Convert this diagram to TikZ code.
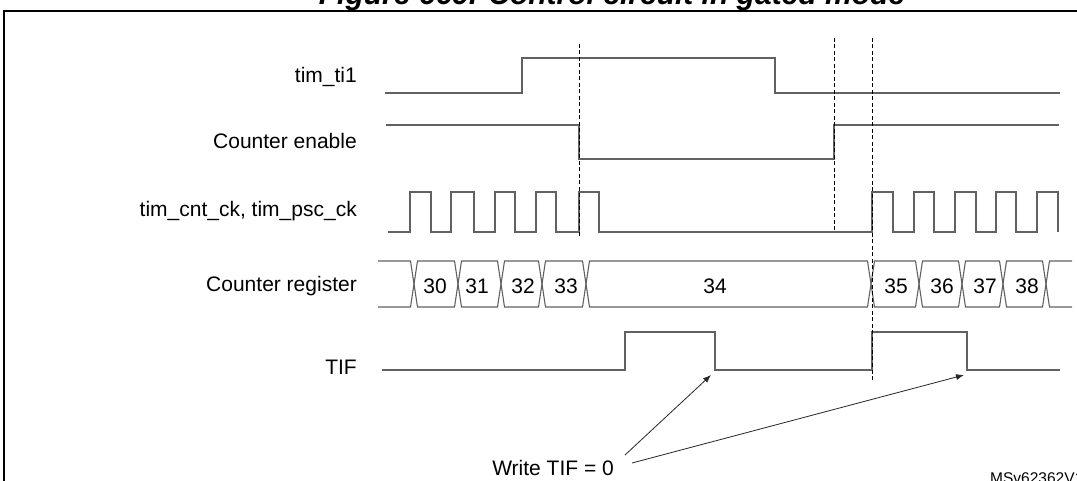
\documentclass[tikz,border=0pt]{standalone}
\usepackage{fontspec}
\setmainfont{Liberation Sans}
\usetikzlibrary{arrows.meta}
\begin{document}
\begin{tikzpicture}[x=1pt,y=-1pt,
  sig/.style={draw=black!62,line width=1.1pt,line join=miter},
  guide/.style={draw=black,line width=0.8pt,dash pattern=on 4pt off 2.5pt},
  lbl/.style={anchor=base east,font=\fontsize{21}{21}\selectfont,inner sep=0pt},
  val/.style={anchor=base,font=\fontsize{21}{21}\selectfont,inner sep=0pt},
  ptr/.style={draw=black!85,line width=0.8pt,-{Latex[length=8pt,width=6pt]}}]
\useasboundingbox (0,0) rectangle (1077,481);
\clip (0,0) rectangle (1077,481);
\fill[white] (0,0) rectangle (1077,481);
% frame
\draw[line width=2pt] (4,1000) -- (4,11) -- (2000,11);
\node[anchor=base,font=\fontsize{30}{30}\selectfont\bfseries\itshape,inner sep=0pt] (title) at (612,5) {Figure 669. Control circuit in gated mode};
% labels
\node[lbl] (l1) at (357,83) {tim\_ti1};
\node[lbl] (l2) at (357,149) {Counter enable};
\node[lbl] (l3) at (357,217) {tim\_cnt\_ck, tim\_psc\_ck};
\node[lbl] (l4) at (357,291) {Counter register};
\node[lbl] (l5) at (357,374) {TIF};
% tim_ti1
\draw[sig] (385,93) -| (522,58) -| (775,93) -- (1060,93);
% counter enable
\draw[sig] (386,125) -| (579,159) -| (834,125) -- (1059,125);
% clock
\draw[sig] (388,232) \foreach \a/\b in {410/431,451/474,495/515,536/556,579/599,872/893,914/934,955/976,996/1016,1037/1058} { -- (\a,232) -- (\a,192) -- (\b,192) -- (\b,232) };
% counter register
\draw[sig] (378,261) -- (410.5,261) -- (414,284) -- (410.5,307) -- (378,307);
\foreach \a/\b in {414/458,458/501,501/542,542/586,586/871,871/919,919/962,962/1003,1003/1046}
  \draw[sig] (\a,284) -- (\a+3.5,261) -- (\b-3.5,261) -- (\b,284) -- (\b-3.5,307) -- (\a+3.5,307) -- cycle;
\draw[sig] (1072,261) -- (1049.5,261) -- (1046,284) -- (1049.5,307) -- (1072,307);
\node[val] (v30) at (435,294) {30};
\node[val] (v31) at (477,294) {31};
\node[val] (v32) at (523,294) {32};
\node[val] (v33) at (566,294) {33};
\node[val] (v34) at (715,294) {34};
\node[val] (v35) at (896,294) {35};
\node[val] (v36) at (942,294) {36};
\node[val] (v37) at (985,294) {37};
\node[val] (v38) at (1027,294) {38};
% TIF
\draw[sig] (382,370) -| (625,332) -| (715,370) -| (872,332) -| (967,370) -- (1060,370);
% guides
\draw[guide] (579,44) -- (579,238);
\draw[guide] (834,38) -- (834,232);
\draw[guide] (872,38) -- (872,380);
% write TIF
\node[anchor=base east,font=\fontsize{21}{21}\selectfont,inner sep=0pt] (wr) at (614,475) {Write TIF = 0};
\coordinate (s1) at (625,455);
\coordinate (s2) at (632,463);
\coordinate (t1) at (711,375);
\coordinate (t2) at (964,375);
\draw[ptr] (s1) -- (t1);
\draw[ptr] (s2) -- (t2);
\node[anchor=base west,font=\fontsize{15.5}{15.5}\selectfont,inner sep=0pt] (id) at (990,483) {MSv62362V1};
\end{tikzpicture}
\end{document}
